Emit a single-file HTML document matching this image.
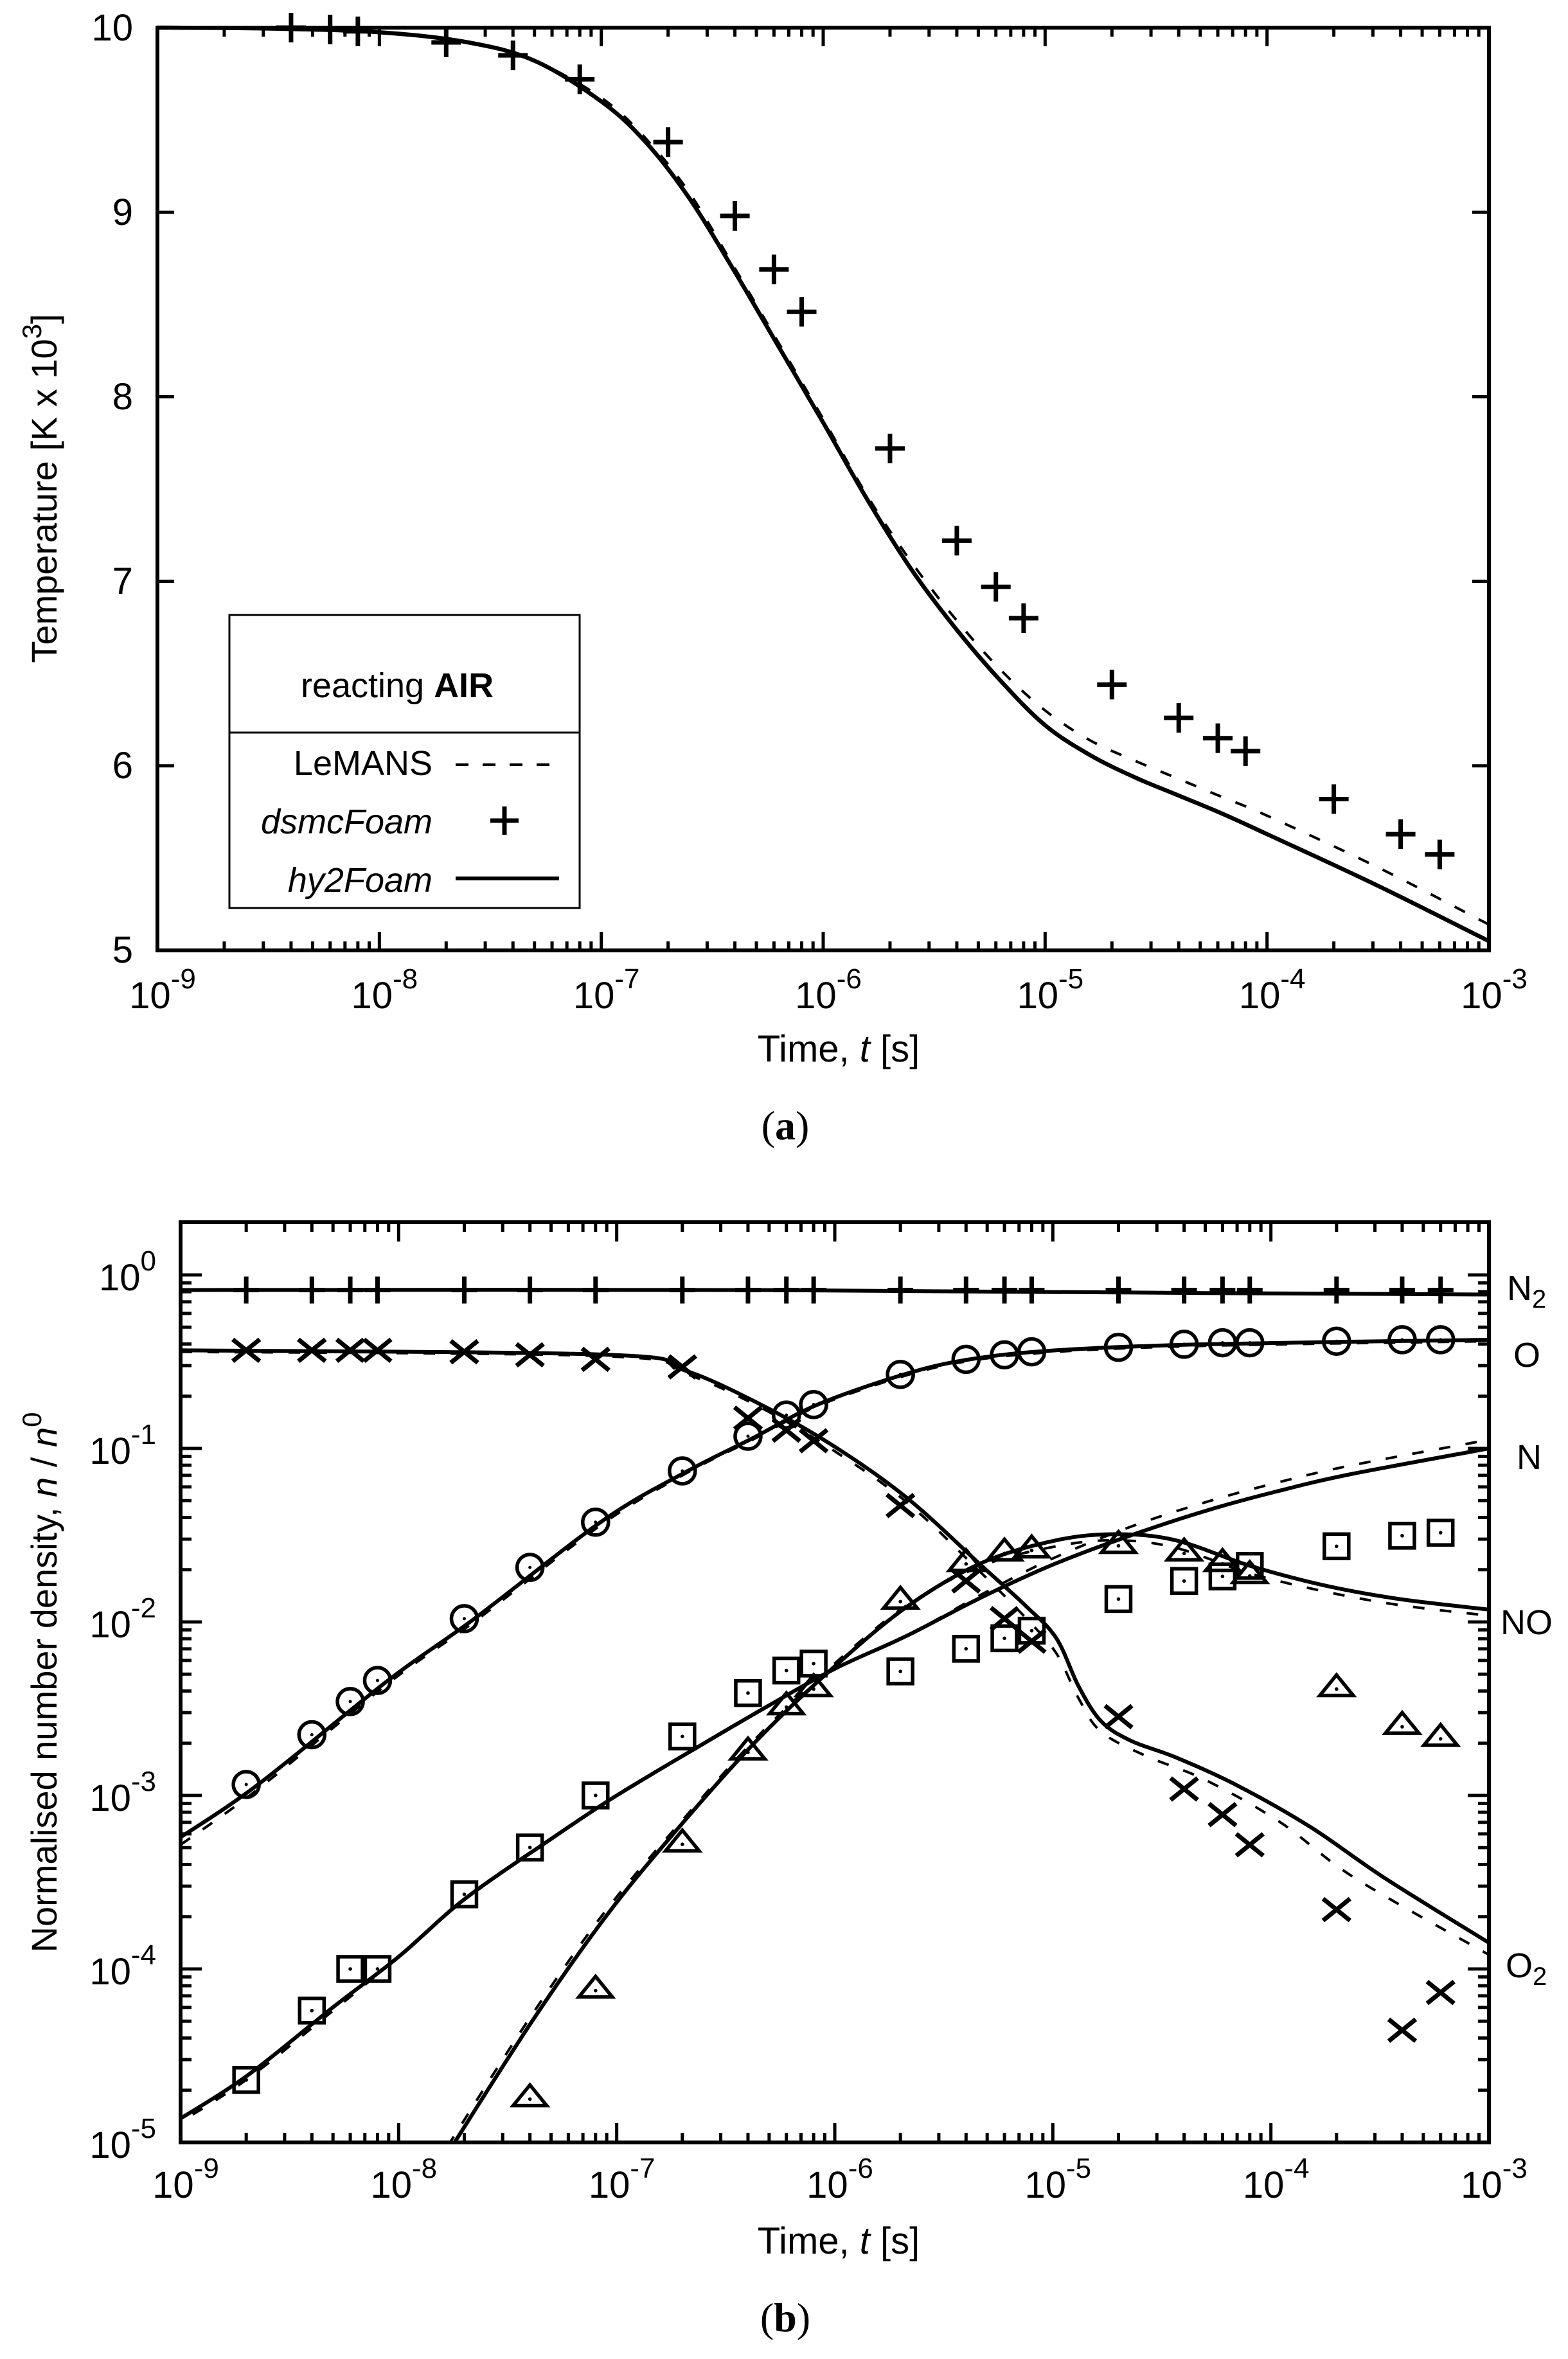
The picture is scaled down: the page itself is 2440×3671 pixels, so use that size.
<!DOCTYPE html>
<html><head><meta charset="utf-8">
<style>
html,body{margin:0;padding:0;background:#fff;}
svg{display:block;}
text{font-family:"Liberation Sans",sans-serif;fill:#000;}
</style></head>
<body>
<svg id="s" xmlns="http://www.w3.org/2000/svg" width="2440" height="3671" viewBox="0 0 2440 3671">
<rect width="2440" height="3671" fill="#fff"/>
<g id="g"></g>
<g font-size="58" text-anchor="end">
<text x="207" y="63">10</text>
<text x="207" y="350">9</text>
<text x="207" y="637">8</text>
<text x="207" y="924">7</text>
<text x="207" y="1211">6</text>
<text x="207" y="1498">5</text>
</g>
<g id="xtA" font-size="58" text-anchor="middle"></g>
<text x="0" y="0" font-size="56" text-anchor="middle" transform="translate(88,760) rotate(-90)">Temperature  [K x 10<tspan font-size="42" dy="-24">3</tspan><tspan dy="24">]</tspan></text>
<text x="1305" y="1652" font-size="58" text-anchor="middle">Time, <tspan font-style="italic">t</tspan>  [s]</text>
<text x="1222" y="1773" font-size="64" text-anchor="middle" style="font-family:'Liberation Serif',serif">(<tspan font-weight="bold">a</tspan>)</text>
<rect x="357" y="957" width="545" height="456" fill="#fff" stroke="#000" stroke-width="3"/>
<line x1="357" y1="1140" x2="902" y2="1140" stroke="#000" stroke-width="3"/>
<text x="618" y="1085" font-size="54" text-anchor="middle">reacting <tspan font-weight="bold">AIR</tspan></text>
<text x="673" y="1206" font-size="54" text-anchor="end">LeMANS</text>
<text x="673" y="1297" font-size="54" text-anchor="end" font-style="italic">dsmcFoam</text>
<text x="673" y="1388" font-size="54" text-anchor="end" font-style="italic">hy2Foam</text>
<line x1="709" y1="1190" x2="855" y2="1190" stroke="#000" stroke-width="4" stroke-dasharray="20,22"/>
<line x1="709" y1="1367" x2="870" y2="1367" stroke="#000" stroke-width="6"/>
<line x1="763" y1="1277" x2="807" y2="1277" stroke="#000" stroke-width="7"/>
<line x1="785" y1="1255" x2="785" y2="1299" stroke="#000" stroke-width="7"/>
<g id="ytB" font-size="58" text-anchor="end"></g>
<g id="xtB" font-size="58" text-anchor="middle"></g>
<text x="0" y="0" font-size="56" text-anchor="middle" transform="translate(88,2618) rotate(-90)">Normalised number density, <tspan font-style="italic">n</tspan> / <tspan font-style="italic">n</tspan><tspan font-size="42" dy="-24">0</tspan></text>
<text x="1305" y="3507" font-size="58" text-anchor="middle">Time, <tspan font-style="italic">t</tspan>  [s]</text>
<text x="1222" y="3628" font-size="64" text-anchor="middle" style="font-family:'Liberation Serif',serif">(<tspan font-weight="bold">b</tspan>)</text>
<g font-size="54">
<text x="2345" y="2023">N<tspan font-size="40" dy="12">2</tspan></text>
<text x="2355" y="2127">O</text>
<text x="2360" y="2286">N</text>
<text x="2335" y="2543">NO</text>
<text x="2343" y="3077">O<tspan font-size="40" dy="12">2</tspan></text>
</g>
</svg>
<script>
(function(){
var NS="http://www.w3.org/2000/svg",g=document.getElementById("g");
function el(t,a,p){var e=document.createElementNS(NS,t);for(var k in a)e.setAttribute(k,a[k]);(p||g).appendChild(e);return e;}
function txt(p,x,y,exp){var t=el("text",{x:x,y:y},p);t.appendChild(document.createTextNode("10"));var s=el("tspan",{"font-size":"44",dy:"-31"},t);s.appendChild(document.createTextNode(exp));}
function pathD(pts){return pts.map(function(p,i){return (i?"L":"M")+p[0].toFixed(1)+" "+p[1].toFixed(1);}).join(" ");}
function smooth(pts){if(pts.length<3)return pathD(pts);var d="M"+pts[0][0]+" "+pts[0][1];for(var i=0;i<pts.length-1;i++){var p0=pts[i-1]||pts[i],p1=pts[i],p2=pts[i+1],p3=pts[i+2]||p2;var c1=[p1[0]+(p2[0]-p0[0])/6,p1[1]+(p2[1]-p0[1])/6],c2=[p2[0]-(p3[0]-p1[0])/6,p2[1]-(p3[1]-p1[1])/6];d+=" C"+c1[0].toFixed(1)+" "+c1[1].toFixed(1)+" "+c2[0].toFixed(1)+" "+c2[1].toFixed(1)+" "+p2[0].toFixed(1)+" "+p2[1].toFixed(1);}return d;}
var L10=Math.log10;
var AL=245,AR=2317,AT=43,AB=1479;
var ax=function(lt){return AL+(AR-AL)/6*(lt+9);},ay=function(T){return AT+(AB-AT)/5*(10-T);};
var cp=el("clipPath",{id:"ca"});el("rect",{x:AL,y:AT-30,width:AR-AL,height:AB-AT+30},cp);
var tk=el("g",{stroke:"#000","stroke-width":"5"});
for(var d=-9;d<=-3;d++){var x=ax(d);el("line",{x1:x,y1:AB,x2:x,y2:AB-29},tk);el("line",{x1:x,y1:AT,x2:x,y2:AT+29},tk);
 if(d<-3)for(var m=2;m<=9;m++){var xm=ax(d+L10(m));el("line",{x1:xm,y1:AB,x2:xm,y2:AB-14},tk);el("line",{x1:xm,y1:AT,x2:xm,y2:AT+14},tk);}}
for(var T=5;T<=10;T++){var y=ay(T);el("line",{x1:AL,y1:y,x2:AL+26,y2:y},tk);el("line",{x1:AR,y1:y,x2:AR-26,y2:y},tk);}
var xtA=document.getElementById("xtA");for(var d=-9;d<=-3;d++)txt(xtA,ax(d)+8,AB+90,String(d));
var solid=[[-9,10],[-8.5,9.995],[-8,9.975],[-7.6,9.92],[-7.3,9.82],[-7,9.6],[-6.8,9.38],[-6.6,9.07],[-6.4,8.68],[-6.2,8.27],[-6,7.86],[-5.8,7.44],[-5.6,7.06],[-5.4,6.74],[-5.2,6.46],[-5,6.22],[-4.8,6.06],[-4.6,5.94],[-4.4,5.84],[-4.2,5.74],[-4,5.63],[-3.5,5.35],[-3,5.05]];
var dash=[[-9,10],[-8.5,9.995],[-8,9.975],[-7.6,9.92],[-7.3,9.82],[-7,9.62],[-6.8,9.4],[-6.6,9.1],[-6.4,8.7],[-6.2,8.29],[-6,7.88],[-5.8,7.46],[-5.6,7.1],[-5.4,6.79],[-5.2,6.52],[-5,6.3],[-4.8,6.14],[-4.6,6.03],[-4.4,5.93],[-4.2,5.83],[-4,5.73],[-3.5,5.45],[-3,5.14]];
var cg=el("g",{"clip-path":"url(#ca)",fill:"none",stroke:"#000"});
el("path",{d:smooth(dash.map(function(p){return[ax(p[0]),ay(p[1])];})),"stroke-width":"4","stroke-dasharray":"18,24"},cg);
el("path",{d:smooth(solid.map(function(p){return[ax(p[0]),ay(p[1])];})),"stroke-width":"6.5"},cg);
var pl=[[4e-9,10],[6e-9,9.99],[8e-9,9.98],[2e-8,9.92],[4e-8,9.85],[8e-8,9.72],[2e-7,9.38],[4e-7,8.98],[6e-7,8.69],[8e-7,8.46],[2e-6,7.72],[4e-6,7.22],[6e-6,6.97],[8e-6,6.8],[2e-5,6.44],[4e-5,6.26],[6e-5,6.15],[8e-5,6.08],[2e-4,5.82],[4e-4,5.63],[6e-4,5.52]];
var pg=el("g",{stroke:"#000","stroke-width":"7"});
pl.forEach(function(p){var x=ax(L10(p[0])),y=ay(p[1]);el("line",{x1:x-23,y1:y,x2:x+23,y2:y},pg);el("line",{x1:x,y1:y-23,x2:x,y2:y+23},pg);});
el("rect",{x:AL,y:AT,width:AR-AL,height:AB-AT,fill:"none",stroke:"#000","stroke-width":"6"});
var BL=281,BR=2317,BT=1902,BB=3334;
var bx=function(lt){return BL+(BR-BL)/6*(lt+9);},by=function(ln){return 1984-270*ln;};
var dX=function(xd){return BL+(xd-113)*(BR-BL)/877;},dY=function(yd){return 1984+(yd-847)*2.346;};
var cpb=el("clipPath",{id:"cb"});el("rect",{x:BL,y:BT,width:BR-BL,height:BB-BT},cpb);
var tb=el("g",{stroke:"#000","stroke-width":"5"});
for(var d=-9;d<=-3;d++){var x=bx(d);el("line",{x1:x,y1:BB,x2:x,y2:BB-30},tb);el("line",{x1:x,y1:BT,x2:x,y2:BT+30},tb);
 if(d<-3)for(var m=2;m<=9;m++){var xm=bx(d+L10(m));el("line",{x1:xm,y1:BB,x2:xm,y2:BB-15},tb);el("line",{x1:xm,y1:BT,x2:xm,y2:BT+15},tb);}}
for(var e=-5;e<=0;e++){var y=by(e);el("line",{x1:BL,y1:y,x2:BL+33,y2:y},tb);el("line",{x1:BR,y1:y,x2:BR-33,y2:y},tb);
 for(var m=2;m<=9;m++){var ym=by(e+L10(m));if(ym<BT+2)continue;el("line",{x1:BL,y1:ym,x2:BL+17,y2:ym},tb);el("line",{x1:BR,y1:ym,x2:BR-17,y2:ym},tb);}}
var ytB=document.getElementById("ytB");for(var e=0;e>=-5;e--)txt(ytB,243,by(e)+24,String(e));
var xtB=document.getElementById("xtB");for(var d=-9;d<=-3;d++)txt(xtB,bx(d)+8,BB+86,String(d));
var cgb=el("g",{"clip-path":"url(#cb)",fill:"none",stroke:"#000"});
function draw(P,dashed){if(dashed)el("path",{d:smooth(P),"stroke-width":"4","stroke-dasharray":"18,24"},cgb);else el("path",{d:smooth(P),"stroke-width":"6"},cgb);}
function cur(pts,dashed){draw(pts.map(function(p){return[dX(p[0]),dY(p[1])];}),dashed);}
function curL(pts,dashed){draw(pts.map(function(p){return[bx(p[0]),by(p[1])];}),dashed);}
var N2=[[113,857],[500,857],[800,859],[990,860]];
var O=[[113,1220],[165,1185],[252,1116],[310,1075],[396,1010],[453,977],[497,955],[540,933],[598,913],[642,903],[700,897],[800,893],[990,890]];
var Od=[[113,1225],[165,1188],[252,1118],[310,1077],[396,1012],[453,978],[497,956],[540,934],[598,914],[642,904],[700,898],[800,894],[990,891]];
var O2=[[113,897],[400,900],[450,910],[500,932],[550,960],[600,995],[650,1040],[680,1067],[700,1088],[715,1120],[730,1143],[750,1156],[780,1167],[820,1185],[870,1213],[920,1247],[990,1290]];
var O2d=[[113,898],[400,901],[450,912],[500,934],[550,963],[600,998],[650,1045],[680,1075],[700,1098],[715,1128],[730,1150],[760,1166],[800,1182],[850,1210],[900,1247],[990,1298]];
var NL=[[-9.05,-4.9],[-8.7,-4.62],[-8.3,-4.22],[-8,-3.93],[-7.7,-3.6],[-7.3,-3.25],[-7,-3.0],[-6.6,-2.7],[-6.3,-2.48],[-6,-2.27],[-5.67,-2.08],[-5.33,-1.86],[-5,-1.67],[-4.64,-1.5],[-4.3,-1.36],[-3.98,-1.25],[-3.64,-1.15],[-3,-1.0]];
var NLd=NL.map(function(p){return[p[0],p[1]+(p[0]>-5.6?Math.min(0.05,(p[0]+5.6)*0.06):0)-(p[0]<-8?0.02:0)];});
var NO=[[295,1425],[350,1340],[400,1270],[450,1210],[500,1155],[550,1108],[600,1067],[650,1038],[700,1023],[740,1019],[780,1023],[830,1040],[880,1053],[930,1062],[990,1069]];
var NOd=[[292,1425],[347,1340],[397,1270],[450,1208],[500,1153],[550,1106],[600,1066],[650,1040],[700,1027],[740,1023],[780,1028],[830,1045],[880,1057],[930,1066],[990,1073]];
cur(O2d,1);cur(Od,1);curL(NLd,1);cur(NOd,1);
cur(N2,0);cur(O,0);cur(O2,0);curL(NL,0);cur(NO,0);
var ts=[2e-9,4e-9,6e-9,8e-9,2e-8,4e-8,8e-8,2e-7,4e-7,6e-7,8e-7,2e-6,4e-6,6e-6,8e-6,2e-5,4e-5,6e-5,8e-5,2e-4,4e-4,6e-4];
var mg=el("g",{stroke:"#000",fill:"none","stroke-width":"5.5"});
function mx(t){return bx(L10(t));}
ts.forEach(function(t){var x=mx(t),y=dY(857);el("line",{x1:x-20,y1:y,x2:x+20,y2:y,"stroke-width":"7"},mg);el("line",{x1:x,y1:y-21,x2:x,y2:y+21,"stroke-width":"7"},mg);});
var Oy=[1185,1152,1130,1116,1075,1041,1011,977,954,940,933,913,903,900,898,895,893,892,892,891,890,890];
ts.forEach(function(t,i){var x=mx(t),y=dY(Oy[i]);el("circle",{cx:x,cy:y,r:20},mg);el("circle",{cx:x,cy:y,r:2.5,fill:"#000",stroke:"none"},mg);});
var O2y=[897,897,897,897,898,900,903,908,942,950,957,1000,1050,1075,1090,1140,1188,1205,1225,1268,1348,1323];
ts.forEach(function(t,i){var x=mx(t),y=dY(O2y[i]);el("line",{x1:x-21,y1:y-17,x2:x+21,y2:y+17,"stroke-width":"7"},mg);el("line",{x1:x-21,y1:y+17,x2:x+21,y2:y-17,"stroke-width":"7"},mg);});
var Nlog=[-4.64,-4.24,-4.0,-4.0,-3.57,-3.30,-3.0,-2.66,-2.41,-2.28,-2.24];
var Ny=[null,null,null,null,null,null,null,null,null,null,null,1110,1095,1088,1083,1062,1050,1047,1040,1027,1020,1018];
ts.forEach(function(t,i){var x=mx(t),y=(i<11)?by(Nlog[i]):dY(Ny[i]);el("rect",{x:x-19,y:y-19,width:38,height:38},mg);el("circle",{cx:x,cy:y,r:2.8,fill:"#000",stroke:"none"},mg);});
var NOt=[[4e-8,1392],[8e-8,1320],[2e-7,1223],[4e-7,1162],[6e-7,1132],[8e-7,1120],[2e-6,1062],[4e-6,1037],[6e-6,1030],[8e-6,1028],[2e-5,1025],[4e-5,1030],[6e-5,1037],[8e-5,1045],[2e-4,1120],[4e-4,1145],[6e-4,1153]];
NOt.forEach(function(p){var x=mx(p[0]),y=dY(p[1]);el("path",{d:"M"+(x-26)+" "+(y+14)+" L"+(x+26)+" "+(y+14)+" L"+x+" "+(y-18)+" Z"},mg);el("circle",{cx:x,cy:y+4,r:2.8,fill:"#000",stroke:"none"},mg);});
el("rect",{x:BL,y:BT,width:BR-BL,height:BB-BT,fill:"none",stroke:"#000","stroke-width":"6"});
})();
</script>
</body></html>
